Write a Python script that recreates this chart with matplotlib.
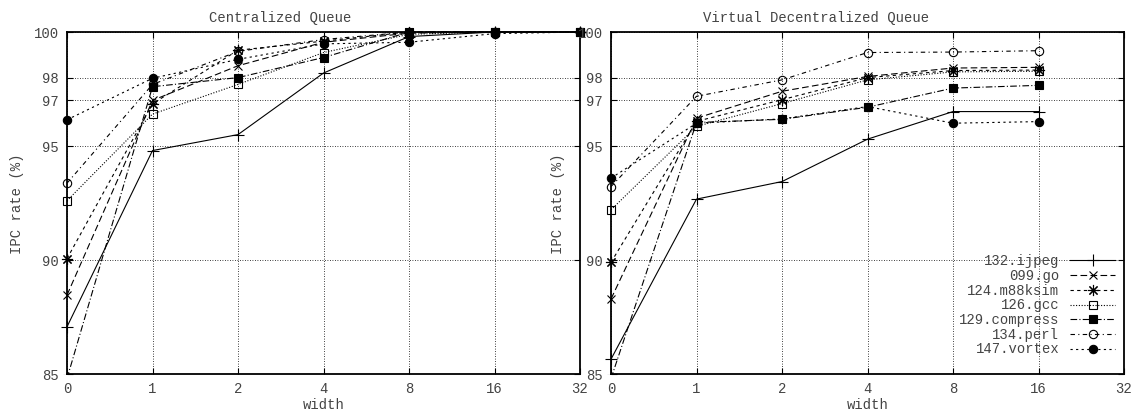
import matplotlib
matplotlib.use("Agg")
import matplotlib.pyplot as plt
from matplotlib.patches import Rectangle

plt.rcParams["font.family"] = ["Liberation Mono", "DejaVu Sans Mono"]
plt.rcParams["font.size"] = 10

widths = ["0", "1", "2", "4", "8", "16", "32"]
benchmarks = ["132.ijpeg", "099.go", "124.m88ksim", "126.gcc",
              "129.compress", "134.perl", "147.vortex"]

# Centralized Queue (widths 0..32)
central = {
    "132.ijpeg":    [87.07, 94.8, 95.5, 98.2, 99.8, 100.0, 100.0],
    "099.go":       [88.46, 97.0, 98.52, 99.55, 99.95, 100.0, 100.0],
    "124.m88ksim":  [90.06, 96.85, 99.2, 99.6, 100.0, 100.0, 100.0],
    "126.gcc":      [92.6, 96.4, 97.7, 99.1, 99.9, 100.0, 100.0],
    "129.compress": [84.8, 97.6, 98.0, 98.88, 100.0, 100.0, 100.0],
    "134.perl":     [93.37, 97.7, 99.15, 99.67, 100.0, 100.0, 100.0],
    "147.vortex":   [96.15, 97.97, 98.8, 99.48, 99.55, 99.93, 100.0],
}

# Virtual Decentralized Queue (widths 0..16)
virtual = {
    "132.ijpeg":    [85.65, 92.67, 93.44, 95.3, 96.51, 96.51],
    "099.go":       [88.29, 96.22, 97.4, 98.05, 98.42, 98.45],
    "124.m88ksim":  [89.9, 96.08, 97.03, 98.0, 98.31, 98.33],
    "126.gcc":      [92.2, 95.86, 96.86, 97.9, 98.25, 98.28],
    "129.compress": [84.8, 96.03, 96.17, 96.7, 97.54, 97.66],
    "134.perl":     [93.22, 97.18, 97.9, 99.1, 99.12, 99.18],
    "147.vortex":   [93.59, 96.0, 96.19, 96.73, 96.0, 96.07],
}

yticks = [85, 90, 95, 97, 98, 100]

styles = {
    "132.ijpeg":    dict(ls="-", marker="+", mfc="black", ms=8),
    "099.go":       dict(ls=(0, (6, 3)), marker="x", mfc="black", ms=6),
    "124.m88ksim":  dict(ls=(0, (3, 3)), marker=(8, 2, 0), mfc="black", ms=8),
    "126.gcc":      dict(ls=(0, (1, 1.5)), marker="s", mfc="none", ms=6),
    "129.compress": dict(ls=(0, (6, 2, 1, 2)), marker="s", mfc="black", ms=6),
    "134.perl":     dict(ls=(0, (4, 3, 1, 3)), marker="o", mfc="none", ms=6),
    "147.vortex":   dict(ls=(0, (2, 3)), marker="o", mfc="black", ms=6),
}

fig = plt.figure(figsize=(11.31, 4.17), dpi=100)
W, H = 1131, 417
ax1 = fig.add_axes([67 / W, 1 - 374 / H, 513 / W, 342 / H])
ax2 = fig.add_axes([611 / W, 1 - 374 / H, 513 / W, 342 / H])

txt = "#444444"
for ax, data in [(ax1, central), (ax2, virtual)]:
    # clip below the x axis only, so markers on the side borders stay whole
    clip = Rectangle((-0.03, 0), 1.06, 1.05, transform=ax.transAxes,
                     fill=False, visible=False)
    ax.add_patch(clip)
    for name in benchmarks:
        vals = data[name]
        st = styles[name]
        line, = ax.plot(range(len(vals)), vals, color="black", lw=0.8,
                        linestyle=st["ls"], marker=st["marker"], mfc=st["mfc"],
                        mec="black", ms=st["ms"], mew=0.8, label=name)
        line.set_clip_path(clip)
    ax.set_xlim(0, 6)
    ax.set_ylim(85, 100)
    ax.set_xticks(range(len(widths)))
    ax.set_xticklabels(widths)
    ax.set_yticks(yticks)
    ax.grid(True, color="black", linestyle=(0, (1, 2)), linewidth=0.6)
    ax.tick_params(direction="in", length=4, colors="black", labelcolor=txt,
                   top=True, right=True, pad=6)
    for sp in ax.spines.values():
        sp.set_linewidth(1.3)
    ax.set_xlabel("width", color=txt, labelpad=1)

fig.text(17 / W, 1 - 204 / H, "IPC rate (%)", rotation=90, color=txt,
         ha="center", va="center")
fig.text(558 / W, 1 - 204 / H, "IPC rate (%)", rotation=90, color=txt,
         ha="center", va="center")
fig.text(280 / W, 1 - 18 / H, "Centralized Queue", color=txt,
         ha="center", va="center")
fig.text(816 / W, 1 - 18 / H, "Virtual Decentralized Queue", color=txt,
         ha="center", va="center")

leg = ax2.legend(loc="lower right", bbox_to_anchor=(0.993, 0.035),
                 frameon=False, markerfirst=False, handlelength=3.2,
                 labelspacing=0.05, borderaxespad=0, handletextpad=0.8,
                 borderpad=0.4)
for t in leg.get_texts():
    t.set_color(txt)

fig.savefig("out.png", dpi=100)
